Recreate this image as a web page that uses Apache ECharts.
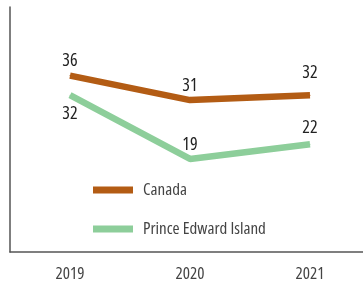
<!DOCTYPE html>
<html><head><meta charset="utf-8">
<script src="https://cdn.jsdelivr.net/npm/echarts@6/dist/echarts.min.js"></script>
<style>html,body{margin:0;padding:0;background:#fff}#c{width:363px;height:287px}</style>
</head><body><div id="c"></div>
<script>
const categories = ['2019', '2020', '2021'];
const canada = [36, 31, 32];
const pei = [32, 19, 22];
const seriesNames = ['Canada', 'Prince Edward Island'];

const FONT = '"Open Sans", sans-serif';
const STRETCH = '500 condensed';
const chart = echarts.init(document.getElementById('c'), null, {renderer: 'canvas'});

function labelled(values, positions, offsets) {
  return values.map((v, i) => ({
    value: v,
    label: {position: positions[i], offset: [0, offsets[i]]}
  }));
}

const labelStyle = {show: true, fontFamily: FONT, fontStyle: 'normal', fontWeight: STRETCH, fontSize: 18, color: '#222'};

chart.setOption({
  animation: false,
  grid: {left: 10, width: 360, top: 7, bottom: 35, outerBoundsMode: 'none', containLabel: false},
  legend: {
    orient: 'vertical', left: 93, top: 180, padding: 0, itemGap: 19,
    itemWidth: 40, itemHeight: 7, icon: 'rect',
    textStyle: {fontFamily: FONT, fontStyle: 'normal', fontWeight: STRETCH, fontSize: 17, lineHeight: 20, color: '#444', padding: [0, 0, 0, 5]},
    data: seriesNames
  },
  xAxis: {
    type: 'category', data: categories, boundaryGap: true,
    axisLine: {lineStyle: {color: '#555', width: 1.5}},
    axisTick: {show: false},
    axisLabel: {fontFamily: FONT, fontStyle: 'normal', fontWeight: STRETCH, fontSize: 17, color: '#444', margin: 14}
  },
  yAxis: {
    type: 'value', min: 0, max: 50,
    axisLine: {show: true, lineStyle: {color: '#555', width: 1.5}},
    axisTick: {show: false}, axisLabel: {show: false}, splitLine: {show: false}
  },
  series: [
    {
      name: seriesNames[0], type: 'line', symbol: 'circle', symbolSize: 1, showSymbol: true,
      lineStyle: {width: 6.5, color: '#b35c14'}, itemStyle: {color: '#b35c14'},
      label: labelStyle,
      data: labelled(canada, ['top', 'top', 'top'], [0, 0, -8])
    },
    {
      name: seriesNames[1], type: 'line', symbol: 'circle', symbolSize: 1, showSymbol: true,
      lineStyle: {width: 6.5, color: '#8dce9a'}, itemStyle: {color: '#8dce9a'},
      label: labelStyle,
      data: labelled(pei, ['bottom', 'top', 'top'], [4, 0, -2])
    }
  ]
});
</script></body></html>
